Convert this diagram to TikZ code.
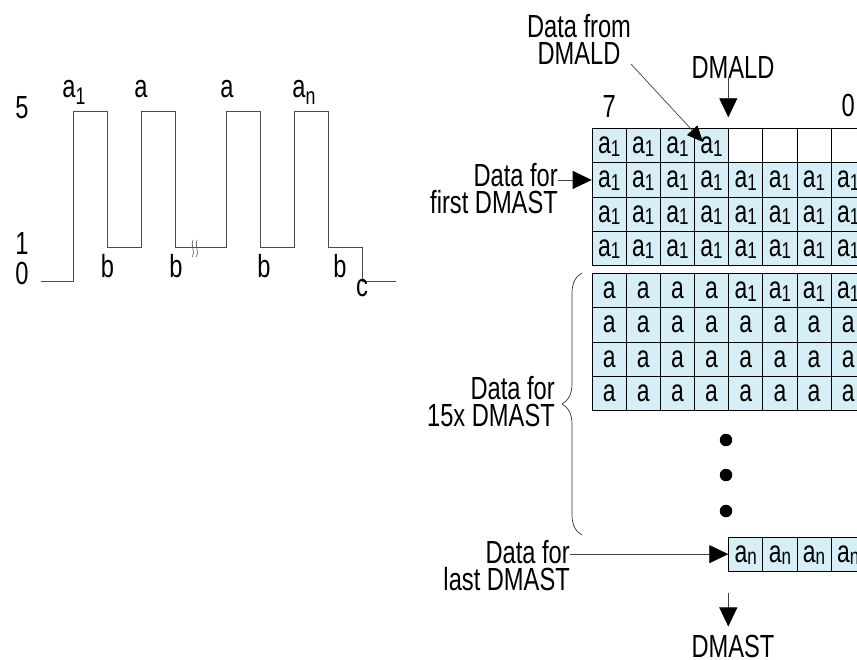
\documentclass[tikz,border=0pt]{standalone}
\usepackage{fontspec}
\setmainfont{Liberation Sans}[FakeStretch=0.74]
\usepackage{xcolor}
\usetikzlibrary{arrows.meta,positioning,decorations.pathreplacing}
\definecolor{cellblue}{RGB}{214,238,246}
\newcommand{\csub}[1]{\raisebox{-2.5pt}{\fontsize{23}{23}\selectfont #1}}
\newcommand{\wsub}[1]{\raisebox{-7pt}{\fontsize{24}{24}\selectfont #1}}

\begin{document}
\begin{tikzpicture}[x=1pt,y=-1pt]
  \tikzset{
    lbl/.style={font=\fontsize{32}{27}\selectfont, inner sep=0pt, align=center},
    cell/.style={draw=black, fill=cellblue, line width=0.7pt, minimum width=34.15pt, minimum height=34.2pt, inner sep=0pt, anchor=north west, font=\fontsize{31}{31}\selectfont, text height=16pt, text depth=0pt},
    blank/.style={cell, fill=white},
    wave/.style={draw=black!70, line width=0.8pt},
    arr/.style={-{Triangle[length=19pt,width=18pt,color=black]}, draw=black!75, line width=0.7pt},
    dot/.style={circle, fill=black, inner sep=0pt, minimum size=12.5pt}
  }
  \useasboundingbox (0,0) rectangle (857,660);

  % - Waveform ---
  \draw[wave] (41,281.7) -- (73.3,281.7) -- (73.3,111.7) -- (107,111.7) -- (107,247) -- (141.3,247)
    -- (141.3,111.7) -- (175,111.7) -- (175,247) -- (226.7,247) -- (226.7,111.7) -- (260.3,111.7)
    -- (260.3,247) -- (294.3,247) -- (294.3,111.7) -- (328.3,111.7) -- (328.3,247) -- (362.3,247)
    -- (362.3,281.7) -- (396,281.7);
  % break marks on the low level
  \draw[wave, line width=0.6pt] (193,240) .. controls (190,245) and (196,251) .. (192,257);
  \draw[wave, line width=0.6pt] (197,240) .. controls (194,245) and (200,251) .. (196,257);

  \node[lbl, anchor=base] (lv5) at (22,119) {5};
  \node[lbl, anchor=base] (lv1) at (22,255) {1};
  \node[lbl, anchor=base] (lv0) at (22,285) {0};

  \node[lbl, anchor=base] (w-a1) at (74,98) {a\wsub{1}};
  \node[lbl, anchor=base] (w-a2) at (141,98) {a};
  \node[lbl, anchor=base] (w-a3) at (227,98) {a};
  \node[lbl, anchor=base] (w-an) at (304,98) {a\wsub{n}};

  \node[lbl, anchor=base] (w-b1) at (107.5,278) {b};
  \node[lbl, anchor=base] (w-b2) at (176,278) {b};
  \node[lbl, anchor=base] (w-b3) at (264,278) {b};
  \node[lbl, anchor=base] (w-b4) at (340,278) {b};
  \node[lbl, anchor=base] (w-c) at (362,297) {c};

  % - First DMAST block ---
  \foreach \c in {0,...,3} \node[cell] (f-0-\c) at ({591.7+34.15*\c},128.3) {a\csub{1}};
  \foreach \c in {4,...,7} \node[blank] (f-0-\c) at ({591.7+34.15*\c},128.3) {};
  \foreach \r in {1,2,3}
    \foreach \c in {0,...,7} \node[cell] (f-\r-\c) at ({591.7+34.15*\c},{128.3+34.2*\r}) {a\csub{1}};

  % - 15x DMAST block ---
  \foreach \c in {0,...,3} \node[cell] (m-0-\c) at ({591.7+34.15*\c},273.3) {a};
  \foreach \c in {4,...,7} \node[cell] (m-0-\c) at ({591.7+34.15*\c},273.3) {a\csub{1}};
  \foreach \r in {1,2,3}
    \foreach \c in {0,...,7} \node[cell] (m-\r-\c) at ({591.7+34.15*\c},{273.3+34.2*\r}) {a};

  \node[dot] (dot1) at (726,440) {};
  \node[dot] (dot2) at (726,475) {};
  \node[dot] (dot3) at (726,511) {};

  % - Last DMAST row ---
  \foreach \c in {4,...,7} \node[cell] (l-\c) at ({591.7+34.15*\c},536.7) {a\csub{n}};

  % - Labels and arrows ---
  \node[lbl] (msb) [above=11pt of f-0-0] {7};
  \node[lbl] (lsb) [above=11pt of f-0-7] {0};

  \node[lbl] (from) at (579,39) {Data from\\DMALD};
  \coordinate (fromtip) at (703,142);
  \draw[arr, -{Triangle[length=16pt,width=14pt,color=black]}] (from.south east) -- (fromtip);

  \node[lbl] (ld) at (733,67) {DMALD};
  \coordinate (ldtip) at ([yshift=11pt]f-0-4.north west);
  \draw[arr] (ld.south -| ldtip) -- (ldtip);

  \node[lbl, align=right, anchor=east] (first) at (558,189) {Data for\\first DMAST};
  \draw[arr] (first.east |- f-1-0.west) -- (f-1-0.west);

  \node[lbl, align=right, anchor=east] (mid) at (555,402) {Data for\\15x DMAST};
  \coordinate (brtop) at (582,273);
  \coordinate (brbot) at (582,535);
  \draw[decorate, decoration={brace, amplitude=20pt}, black!80, line width=0.7pt] (brbot) -- (brtop);

  \node[lbl, align=right, anchor=east] (last) at (570,566) {Data for\\last DMAST};
  \draw[arr] (last.east |- l-4.west) -- (l-4.west);

  \node[lbl] (dmast) at (733,646) {DMAST};
  \coordinate (dmstart) at ([yshift=-21pt]l-4.south west);
  \coordinate (dmtip) at ([yshift=8pt]dmast.north);
  \draw[arr] (dmstart) -- (dmtip -| dmstart);

\end{tikzpicture}
\end{document}
